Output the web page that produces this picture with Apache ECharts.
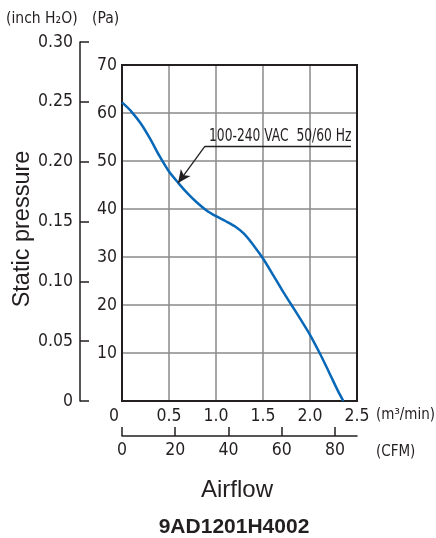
<!DOCTYPE html>
<html><head><meta charset="utf-8">
<script src="https://cdn.jsdelivr.net/npm/echarts@6/dist/echarts.min.js"></script>
<style>html,body{margin:0;padding:0;background:#fff}#c{width:436px;height:538px}</style>
</head><body><div id="c"></div>
<script>
// Data (airflow m3/min, static pressure Pa)
const airflow = [0, 0.1, 0.2, 0.3, 0.4, 0.5, 0.6, 0.7, 0.8, 0.9, 1.0, 1.1, 1.2, 1.3, 1.4, 1.5, 1.6, 1.7, 1.8, 1.9, 2.0, 2.1, 2.2, 2.3, 2.355];
const pressure = [62.2, 60.3, 57.8, 54.6, 51.0, 47.8, 45.4, 43.2, 41.3, 39.7, 38.5, 37.5, 36.4, 34.8, 32.4, 29.7, 26.5, 23.2, 20.1, 17.0, 13.8, 10.1, 6.1, 2.0, 0];
const seriesName = '100-240 VAC  50/60 Hz';
const modelName = '9AD1201H4002';
// Annotation anchor points in data units [m3/min, Pa]
const annoLineStart = [0.883, 53.1];
const annoLineEnd = [2.436, 53.1];
const annoArrowTip = [0.596, 45.4];
// Axis ranges
const paMax = 70, paStep = 10;
const m3Max = 2.5, m3Step = 0.5;
const cfmMax = 88.29, cfmStep = 20;
const inchMax = 0.30, inchStep = 0.05;

const ink = '#231f20';
const narrow = "'DejaVu Sans Condensed','DejaVu Sans',sans-serif";
const narrowCss = "'DejaVu Sans Condensed','DejaVu Sans',sans-serif";
const sansCss = "'Liberation Sans',Arial,sans-serif";
const tickFont = 17.5;

const chart = echarts.init(document.getElementById('c'), null, {renderer: 'canvas'});
chart.setOption({
  animation: false,
  backgroundColor: '#fff',
  grid: [
    {left: 122, top: 65, width: 235, height: 336, show: true, borderColor: ink, borderWidth: 2, backgroundColor: 'transparent', z: 3},
    {left: 80, top: 42, width: 1, height: 359}
  ],
  xAxis: [
    {type: 'value', gridIndex: 0, min: 0, max: m3Max, interval: m3Step,
     axisLine: {show: false}, axisTick: {show: false},
     splitLine: {show: true, showMinLine: false, showMaxLine: false, lineStyle: {color: '#8a8a8a', width: 1.5}},
     axisLabel: {margin: 6, color: ink, fontFamily: narrow, fontSize: tickFont,
       formatter: v => v === 0 ? '{z|0}' : v.toFixed(1),
       rich: {z: {padding: [0, 16, 0, 0], color: ink, fontFamily: narrow, fontSize: tickFont}}}},
    {type: 'value', gridIndex: 0, position: 'bottom', offset: 35, min: 0, max: cfmMax, interval: cfmStep,
     axisLine: {show: true, onZero: false, lineStyle: {color: ink, width: 1.5}},
     axisTick: {show: true, inside: true, length: 9, lineStyle: {color: ink, width: 1.5}},
     splitLine: {show: false},
     axisLabel: {margin: 5, color: ink, fontFamily: narrow, fontSize: tickFont, showMaxLabel: false}},
    {type: 'value', gridIndex: 1, show: false, min: 0, max: 1}
  ],
  yAxis: [
    {type: 'value', gridIndex: 0, min: 0, max: paMax, interval: paStep,
     axisLine: {show: false}, axisTick: {show: false},
     splitLine: {show: true, showMinLine: false, showMaxLine: false, lineStyle: {color: '#8a8a8a', width: 1.5}},
     axisLabel: {margin: 5, color: ink, fontFamily: narrow, fontSize: tickFont,
       formatter: v => v === 0 ? '' : String(v)}},
    {type: 'value', gridIndex: 1, min: 0, max: inchMax, interval: inchStep, position: 'left',
     axisLine: {show: true, onZero: false, lineStyle: {color: ink, width: 1.5}},
     axisTick: {show: true, inside: true, length: 9, lineStyle: {color: ink, width: 1.5}},
     splitLine: {show: false},
     axisLabel: {margin: 7, color: ink, fontFamily: narrow, fontSize: tickFont,
       formatter: v => v === 0 ? '0' : v.toFixed(2)}}
  ],
  series: [{
    name: seriesName, type: 'line', xAxisIndex: 0, yAxisIndex: 0,
    data: airflow.map((q, i) => [q, pressure[i]]),
    smooth: 0.3, showSymbol: false, symbol: 'none', z: 5,
    lineStyle: {color: '#0868b8', width: 2.5},
    markLine: {
      silent: true, animation: false, z: 6,
      lineStyle: {color: ink, width: 1.3, type: 'solid'},
      label: {show: false},
      data: [
        [{coord: annoLineStart, symbol: 'none'}, {coord: annoArrowTip, symbol: 'arrow', symbolSize: [9, 13]}],
        [{coord: annoLineStart, symbol: 'none'}, {coord: annoLineEnd, symbol: 'none'}]
      ]
    }
  }]
});

// Annotation text placed through the chart's own coordinate conversion
const p = chart.convertToPixel({xAxisIndex: 0, yAxisIndex: 0}, annoLineStart);
chart.setOption({
  graphic: [
    {type: 'text', x: p[0] + 4, y: p[1] - 10, scaleX: 0.76, z: 10,
     style: {text: seriesName, fill: ink, verticalAlign: 'middle', font: "18px " + narrowCss}},
    {type: 'text', left: 6, top: 11, style: {text: '(inch H₂O)', fill: ink, font: "15.5px " + narrowCss}},
    {type: 'text', left: 92, top: 11, style: {text: '(Pa)', fill: ink, font: "15.5px " + narrowCss}},
    {type: 'text', x: 23, y: 229, rotation: Math.PI / 2, style: {text: 'Static pressure', fill: ink, align: 'center', verticalAlign: 'middle', font: "23.5px " + sansCss}},
    {type: 'text', left: 376, top: 408, style: {text: '(m³/min)', fill: ink, font: "15px " + narrowCss}},
    {type: 'text', left: 376, top: 445, style: {text: '(CFM)', fill: ink, font: "15px " + narrowCss}},
    {type: 'text', x: 237, y: 490, style: {text: 'Airflow', fill: ink, align: 'center', verticalAlign: 'middle', font: "24px " + sansCss}},
    {type: 'text', x: 234, y: 527, style: {text: modelName, fill: ink, align: 'center', verticalAlign: 'middle', font: "bold 21px " + sansCss}}
  ]
});
</script></body></html>
